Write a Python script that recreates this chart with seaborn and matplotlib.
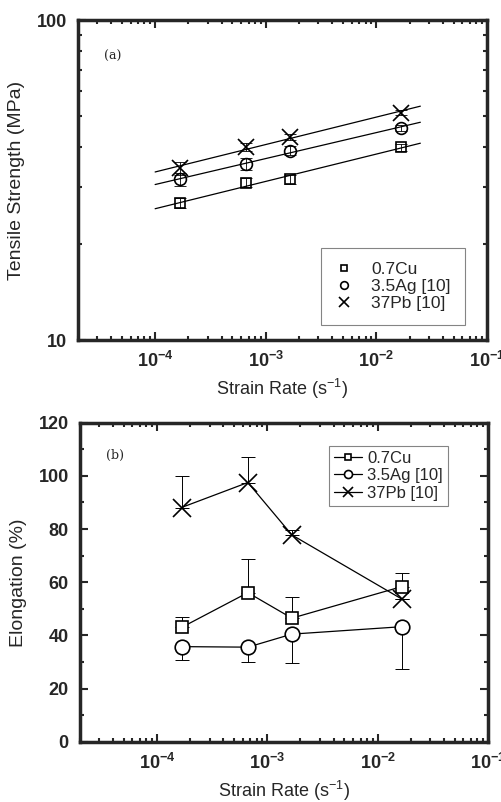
import numpy as np
import pandas as pd
import seaborn as sns
import matplotlib.pyplot as plt
from matplotlib.ticker import LogLocator, NullFormatter, FixedLocator, MultipleLocator, FuncFormatter

# strain rates (s^-1)
rate = [1.67e-4, 6.67e-4, 1.67e-3, 1.67e-2]
alloys = ['0.7Cu', '3.5Ag [10]', '37Pb [10]']

# (a) tensile strength, MPa
ts_cu = [26.8, 31.0, 31.8, 40.1]
ts_ag = [31.8, 35.5, 39.1, 46.1]
ts_pb = [34.4, 40.1, 43.2, 51.4]
ts_err_cu = [1.0, 1.0, 1.0, 1.0]
ts_err_ag = [1.5, 1.5, 1.2, 1.0]
ts_err_pb = [1.5, 1.2, 1.0, 1.0]

# (b) elongation, %
el_cu = [43.0, 56.1, 46.5, 58.4]
el_ag = [35.8, 35.6, 40.5, 43.3]
el_pb = [88.1, 97.5, 77.8, 53.6]
el_up_cu = [4.1, 12.5, 8.1, 5.0]
el_lo_ag = [5.0, 5.6, 10.9, 16.0]
el_up_pb = [11.9, 9.4, 1.9, 0.0]

sns.set_style("ticks")
plt.rcParams['font.family'] = ['Liberation Sans', 'DejaVu Sans']
plt.rcParams['mathtext.default'] = 'regular'

fig = plt.figure(figsize=(5.02, 8.02), dpi=100)
ax1 = fig.add_axes([0.155, 0.576, 0.815, 0.399])
ax2 = fig.add_axes([0.159, 0.075, 0.813, 0.398])

markers = ['s', 'o', 'x']

# ---- (a)
ts = [ts_cu, ts_ag, ts_pb]
ts_err = [ts_err_cu, ts_err_ag, ts_err_pb]
msz_a = [7, 8.5, 11]
handles = []
for name, y, e, m, ms in zip(alloys, ts, ts_err, markers, msz_a):
    df = pd.DataFrame({'rate': rate, 'ts': y})
    ax1.errorbar(rate, y, yerr=e, fmt='none', ecolor='k', elinewidth=0.6, capsize=4, capthick=0.6, zorder=2)
    # power-law fit line
    k, b = np.polyfit(np.log10(df['rate']), np.log10(df['ts']), 1)
    xf = np.array([1e-4, 2.5e-2])
    ax1.plot(xf, 10 ** (k * np.log10(xf) + b), color='k', lw=0.9, zorder=1)
    h, = ax1.plot(df['rate'], df['ts'], ls='none', marker=m, ms=ms, mfc='none', mec='k',
                  mew=1.2, zorder=3)
    handles.append(h)

ax1.set_xscale('log')
ax1.set_yscale('log')
ax1.set_xlim(2e-5, 1e-1)
ax1.set_ylim(10, 100)
ax1.yaxis.set_major_locator(FixedLocator([10, 100]))
ax1.yaxis.set_major_formatter(FuncFormatter(lambda v, p: '%d' % v))
ax1.yaxis.set_minor_locator(FixedLocator(np.arange(20, 100, 10)))
ax1.yaxis.set_minor_formatter(NullFormatter())
ax1.set_ylabel('Tensile Strength (MPa)', fontsize=14, labelpad=8)
ax1.text(0.065, 0.875, '(a)', transform=ax1.transAxes, fontsize=9, family='DejaVu Serif')
leg = ax1.legend(handles, alloys, loc='lower right', bbox_to_anchor=(0.946, 0.047), borderaxespad=0,
                 frameon=True, fancybox=False, edgecolor='0.4', fontsize=12.5, handlelength=1.0,
                 handletextpad=1.1, borderpad=0.8, labelspacing=0.1, markerscale=0.65)
leg.get_frame().set_linewidth(0.8)

# ---- (b)
el = [el_cu, el_ag, el_pb]
zeros = [0, 0, 0, 0]
el_err = [[zeros, el_up_cu], [el_lo_ag, zeros], [zeros, el_up_pb]]
msz_b = [9, 10.5, 13]
for name, y, e, m, ms in zip(alloys, el, el_err, markers, msz_b):
    df = pd.DataFrame({'rate': rate, 'el': y})
    ax2.errorbar(rate, y, yerr=e, fmt='none', ecolor='k', elinewidth=0.7, capsize=5, capthick=0.7, zorder=1)
    sns.lineplot(data=df, x='rate', y='el', ax=ax2, color='k', lw=0.9, marker=m, ms=ms,
                 mfc='white', mec='k', mew=1.2, label=name, zorder=3)

ax2.set_xscale('log')
ax2.set_xlim(2e-5, 1e-1)
ax2.set_ylim(0, 120)
ax2.yaxis.set_major_locator(MultipleLocator(20))
ax2.yaxis.set_minor_locator(MultipleLocator(10))
ax2.set_ylabel('Elongation (%)', fontsize=14, labelpad=8)
ax2.text(0.065, 0.885, '(b)', transform=ax2.transAxes, fontsize=9, family='DejaVu Serif')
leg2 = ax2.legend(loc='upper right', bbox_to_anchor=(0.902, 0.928), borderaxespad=0, frameon=True,
                  fancybox=False, edgecolor='0.4', fontsize=12, handlelength=1.7, handletextpad=0.3,
                  borderpad=0.3, labelspacing=0.15, markerscale=0.55)
leg2.get_frame().set_linewidth(0.8)

for ax in (ax1, ax2):
    ax.xaxis.set_major_locator(LogLocator(base=10, numticks=10))
    ax.xaxis.set_minor_locator(LogLocator(base=10, subs=np.arange(2, 10), numticks=20))
    ax.xaxis.set_minor_formatter(NullFormatter())
    ax.set_xlabel('Strain Rate (s$^{-1}$)', fontsize=13, labelpad=4)
    ax.tick_params(which='both', direction='in', top=True, right=True, width=1.5, labelsize=13)
    ax.tick_params(which='major', length=6, pad=8)
    ax.tick_params(which='minor', length=3)
    for s in ax.spines.values():
        s.set_linewidth(2.5)
    for t in ax.get_xticklabels() + ax.get_yticklabels():
        t.set_fontweight('bold')

fig.savefig('out.png', dpi=100)
